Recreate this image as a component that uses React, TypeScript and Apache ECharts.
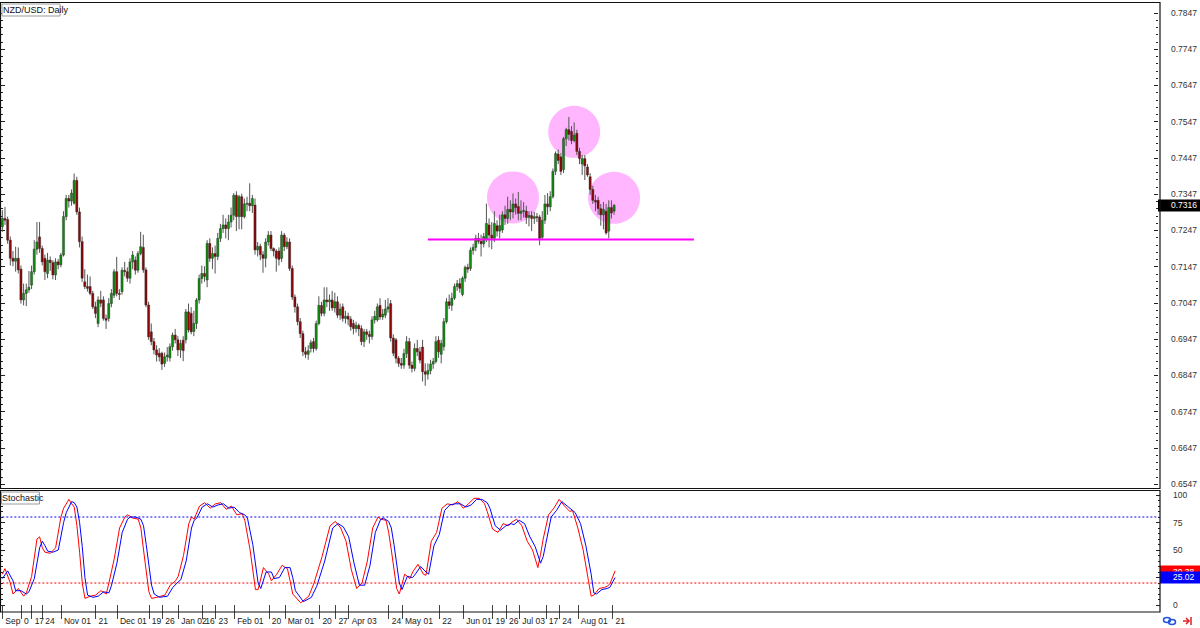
import React, { useEffect, useRef } from 'react';
import * as echarts from 'echarts';

// NZD/USD daily candles, in pips (price x 10000): [open, close, low, high]
const ohlc: number[][] = [
[7257,7280,7243,7303],[7280,7275,7262,7312],[7277,7220,7210,7285],[7220,7170,7150,7230],[7170,7162,7148,7190],
[7162,7170,7133,7202],[7170,7138,7128,7200],[7140,7055,7045,7150],[7055,7073,7040,7100],[7073,7083,7038,7100],
[7083,7090,7075,7135],[7096,7133,7085,7150],[7133,7195,7125,7220],[7195,7215,7180,7270],[7229,7197,7185,7270],
[7197,7160,7150,7205],[7170,7133,7110,7180],[7128,7165,7115,7185],[7165,7158,7135,7175],[7158,7124,7112,7165],
[7124,7160,7110,7170],[7160,7152,7140,7168],[7152,7179,7145,7185],[7179,7285,7175,7300],[7285,7335,7275,7345],
[7335,7328,7310,7345],[7328,7350,7315,7360],[7322,7385,7318,7404],[7385,7298,7290,7395],[7298,7216,7200,7310],
[7216,7115,7105,7230],[7105,7092,7085,7140],[7092,7087,7078,7125],[7092,7073,7068,7120],[7073,7036,7030,7080],
[7036,7018,7005,7050],[6990,7055,6980,7065],[7055,7046,7035,7080],[7055,7004,6998,7065],[7004,6999,6975,7015],
[7004,7045,6995,7060],[7045,7073,7035,7085],[7068,7133,7060,7140],[7133,7073,7065,7174],[7073,7070,7055,7085],
[7078,7137,7070,7145],[7137,7133,7120,7160],[7133,7115,7105,7145],[7115,7160,7100,7170],[7160,7179,7140,7190],
[7165,7137,7125,7175],[7137,7183,7130,7190],[7183,7202,7178,7243],[7200,7138,7130,7235],[7138,7041,7035,7145],
[7041,6953,6945,7050],[6967,6940,6930,6990],[6940,6917,6905,6950],[6917,6903,6885,6930],[6908,6898,6885,6922],
[6908,6878,6862,6912],[6880,6898,6870,6910],[6898,6903,6885,6925],[6895,6926,6885,6935],[6926,6958,6915,6965],
[6958,6945,6935,6975],[6945,6917,6900,6955],[6917,6935,6895,6945],[6944,6915,6886,6955],[6945,7022,6935,7030],
[7022,6972,6965,7045],[7018,6967,6960,7035],[6968,6990,6955,7025],[6990,7055,6975,7060],[7055,7114,7045,7125],
[7114,7128,7100,7150],[7128,7120,7105,7148],[7110,7211,7090,7220],[7211,7170,7160,7225],[7170,7183,7140,7200],
[7183,7175,7128,7205],[7175,7225,7165,7240],[7225,7252,7215,7265],[7252,7262,7240,7290],[7262,7252,7225,7280],
[7252,7270,7220,7290],[7270,7289,7255,7310],[7289,7344,7275,7350],[7344,7285,7245,7355],[7285,7340,7250,7345],
[7340,7285,7250,7348],[7285,7320,7280,7335],[7320,7322,7300,7340],[7322,7315,7300,7377],[7315,7335,7295,7345],
[7317,7193,7180,7335],[7193,7203,7175,7215],[7203,7180,7165,7210],[7180,7170,7130,7190],[7170,7215,7145,7225],
[7215,7234,7205,7245],[7234,7197,7190,7245],[7197,7190,7175,7200],[7190,7170,7133,7195],[7190,7167,7150,7200],
[7170,7234,7160,7245],[7234,7202,7190,7240],[7202,7215,7195,7228],[7215,7142,7135,7225],[7142,7063,7055,7150],
[7063,7036,7020,7070],[7036,6995,6985,7045],[6995,6962,6950,7005],[6962,6912,6900,6970],[6912,6905,6895,6925],
[6905,6915,6890,6930],[6921,6937,6910,6945],[6940,6921,6910,6950],[6921,6990,6915,6998],[6990,7040,6985,7065],
[7040,7018,7010,7050],[7018,7055,7010,7090],[7055,7050,7035,7090],[7050,7055,7025,7070],[7055,7033,7025,7080],
[7033,7050,7020,7075],[7050,7013,7005,7065],[7013,7030,7000,7045],[7036,7004,6995,7045],[7004,7010,6990,7025],
[7010,7002,6985,7020],[7002,6981,6970,7010],[6990,6976,6960,7000],[6976,6985,6965,6995],[6985,6975,6955,6990],
[6976,6940,6930,6985],[6940,6967,6925,6975],[6967,6960,6945,6975],[6960,6954,6935,6970],[6954,7000,6945,7010],
[7000,7010,6990,7025],[7000,7036,6995,7045],[7040,7008,7000,7060],[7008,7016,7000,7030],[7013,7030,7005,7055],
[7030,7036,7020,7060],[7045,6950,6940,7055],[6950,6908,6900,6960],[6945,6894,6880,6950],[6894,6880,6870,6900],
[6880,6875,6865,6895],[6875,6907,6865,6920],[6907,6940,6895,6955],[6940,6875,6865,6950],[6875,6866,6855,6885],
[6866,6921,6858,6935],[6921,6912,6900,6945],[6912,6889,6880,6925],[6925,6857,6830,6945],[6857,6850,6818,6880],
[6850,6860,6835,6880],[6860,6878,6850,6890],[6878,6885,6865,6895],[6885,6940,6880,6955],[6944,6912,6895,6955],
[6905,6935,6880,6945],[6926,6995,6915,7005],[6995,7050,6990,7060],[7050,7040,7030,7070],[7040,7060,7025,7075],
[7060,7092,7055,7100],[7092,7100,7080,7110],[7100,7087,7075,7115],[7070,7115,7065,7120],[7115,7145,7105,7150],
[7145,7140,7130,7155],[7142,7192,7135,7200],[7192,7200,7180,7210],[7200,7225,7190,7235],[7225,7217,7210,7240],
[7217,7210,7175,7235],[7210,7230,7200,7240],[7222,7266,7215,7321],[7262,7234,7200,7280],[7234,7225,7195,7270],
[7225,7266,7215,7300],[7260,7245,7230,7275],[7245,7260,7225,7290],[7248,7290,7240,7300],[7290,7280,7262,7315],
[7280,7305,7265,7340],[7305,7298,7275,7330],[7298,7320,7280,7349],[7320,7310,7290,7335],[7313,7294,7275,7353],
[7294,7300,7275,7330],[7300,7302,7282,7325],[7300,7283,7265,7315],[7283,7288,7258,7300],[7288,7280,7245,7300],
[7280,7285,7265,7298],[7285,7284,7270,7295],[7284,7225,7206,7290],[7228,7275,7220,7300],[7275,7320,7265,7345],
[7320,7312,7290,7350],[7312,7340,7300,7355],[7340,7410,7335,7418],[7410,7459,7400,7465],[7458,7440,7430,7470],
[7450,7410,7400,7460],[7415,7500,7405,7505],[7500,7525,7480,7530],[7525,7512,7495,7560],[7520,7495,7485,7535],
[7495,7510,7490,7545],[7515,7465,7455,7525],[7465,7445,7430,7475],[7430,7445,7400,7455],[7445,7425,7386,7455],
[7422,7400,7395,7430],[7395,7360,7345,7405],[7360,7330,7320,7370],[7330,7325,7300,7345],[7330,7307,7290,7340],
[7307,7290,7260,7320],[7290,7305,7250,7325],[7300,7240,7235,7320],[7245,7310,7225,7330],[7310,7295,7280,7330],
[7300,7316,7290,7320]
];

const TOTAL_SLOTS = 435;

const xLabels: [number, string][] = [
  [0, 'Sep'], [7, '0'], [11, '17'], [15, '24'], [22, 'Nov 01'], [35, '21'], [43, 'Dec 01'], [55, '19'],
  [60, '26'], [66, 'Jan 02'], [75, '16'], [80, '23'], [87, 'Feb 01'], [100, '20'], [106, 'Mar 01'],
  [119, '20'], [125, '27'], [130, 'Apr 03'], [145, '24'], [150, 'May 01'], [164, '22'], [173, 'Jun 01'],
  [184, '19'], [189, '26'], [194, 'Jul 03'], [204, '17'], [209, '24'], [216, 'Aug 01'], [229, '21'],
];

// Stochastic main line (red) and signal line (blue): [bar index, value]
const stochMain: number[][] = [
[0,28],[1,33],[3,20],[4,10],[6,15],[8,8],[9,11],[11,26],[13,60],[14,62],[15,52],[16,48],[18,47],[20,52],[22,80],
[23,88],[25,96],[26,92],[27,89],[28,72],[29,48],[30,20],[31,6],[33,8],[35,9],[37,13],[39,10],[40,20],[42,42],
[44,70],[46,80],[47,82],[49,79],[51,78],[52,70],[53,50],[55,12],[56,6],[58,7],[61,9],[63,18],[65,22],[66,26],
[68,45],[70,74],[71,80],[72,78],[74,90],[76,93],[78,88],[80,92],[82,93],[84,87],[86,90],[88,82],[90,83],[91,77],
[93,50],[95,14],[96,14],[98,34],[100,28],[101,22],[103,28],[105,36],[107,33],[108,22],[109,10],[112,2],[115,8],
[117,20],[120,44],[123,72],[125,76],[127,70],[129,58],[131,32],[133,15],[135,20],[137,40],[139,70],[141,80],
[142,78],[144,77],[145,66],[146,50],[148,15],[149,10],[151,28],[153,24],[154,30],[156,37],[158,28],[159,27],
[161,58],[163,66],[165,88],[167,92],[169,91],[171,94],[173,88],[175,92],[177,97],[179,97],[181,92],[182,85],
[184,69],[186,66],[188,74],[190,72],[191,75],[193,78],[195,72],[197,58],[199,50],[201,34],[202,46],[203,60],
[205,82],[207,88],[209,96],[211,90],[213,85],[214,86],[216,70],[218,50],[220,22],[221,8],[222,9],[224,15],
[226,16],[227,17],[228,19],[230,31]
];
const stochSignal: number[][] = [
[0,24],[2,31],[4,22],[5,13],[7,13],[9,10],[10,12],[12,24],[14,52],[15,58],[16,54],[17,49],[19,48],[21,50],
[23,75],[24,84],[26,94],[27,93],[28,89],[29,75],[30,53],[31,25],[32,9],[34,7],[36,8],[38,12],[40,11],[41,18],
[43,38],[45,66],[47,78],[48,80],[50,80],[52,78],[53,72],[54,55],[56,18],[57,10],[59,7],[62,8],[64,16],[66,21],
[67,23],[69,40],[71,70],[72,77],[73,79],[75,89],[77,92],[79,89],[81,91],[83,92],[85,88],[87,89],[89,84],[91,82],
[92,79],[94,55],[96,20],[97,15],[99,30],[101,30],[102,24],[104,25],[106,34],[108,34],[109,25],[110,13],[113,3],
[116,7],[118,17],[121,40],[124,70],[126,74],[128,71],[130,62],[132,38],[134,18],[136,18],[138,36],[140,66],
[142,78],[143,79],[145,76],[146,70],[147,55],[149,20],[150,14],[152,26],[154,25],[155,28],[157,35],[159,30],
[160,28],[162,54],[164,64],[166,86],[168,91],[170,92],[172,92],[174,89],[176,91],[178,96],[180,96],[182,93],
[183,88],[185,72],[187,68],[189,72],[191,74],[192,73],[194,77],[196,74],[198,62],[200,53],[202,38],[203,44],
[204,56],[206,80],[208,86],[210,94],[212,90],[214,86],[215,84],[217,74],[219,54],[221,28],[222,11],[223,10],
[225,14],[227,15],[228,16],[230,25]
];

const supportLevel = 7222;
const supportFrom = 160;
const supportTo = 260;
const patternCircles: number[][] = [[192, 7338], [215, 7519], [230, 7337]];
const lastPrice = 7316;
const stochMainLast = 30.38;
const stochSignalLast = 25.02;
const stochUpper = 80;
const stochLower = 20;

const FONT = 'Liberation Sans, Arial, sans-serif';
const CLEAR = 'rgba(0,0,0,0)';

export default function App() {
  const ref = useRef<HTMLDivElement>(null);
  useEffect(() => {
    if (!ref.current) return;
    const chart = echarts.init(ref.current, undefined, { renderer: 'svg' });
    const cats = Array.from({ length: TOTAL_SLOTS }, (_, i) => String(i));
    const labelMap = new Map<number, string>(xLabels);
    const showIdx = (idx: number) => labelMap.has(idx);
    const candleData = ohlc.map((r, i) => [i, r[0], r[1], r[2], r[3]]);
    const lastSlot = TOTAL_SLOTS - 1;

    const priceAxisBase = {
      type: 'value', gridIndex: 0, min: 6547, max: 7847, interval: 100,
      splitLine: { show: false }, axisLine: { show: false },
      axisTick: { show: true, inside: true, length: 4, lineStyle: { color: '#222' } },
      minorTick: { show: true, splitNumber: 5, length: 2, lineStyle: { color: '#222' } },
    };
    const stochAxisBase = {
      type: 'value', gridIndex: 1, min: 0, max: 100, interval: 25,
      splitLine: { show: false }, axisLine: { show: false },
      axisTick: { show: true, inside: true, length: 4, lineStyle: { color: '#222' } },
      minorTick: { show: true, splitNumber: 5, length: 2, lineStyle: { color: '#222' } },
    };
    const tagLabel = (text: string, bg: string) => ({
      show: true, position: 'end', distance: 0, formatter: text,
      backgroundColor: bg, color: '#fff', padding: [2, 6, 1, 13], fontSize: 8.5, fontFamily: FONT,
    });

    chart.setOption({
      animation: false,
      backgroundColor: '#fff',
      textStyle: { fontFamily: FONT },
      grid: [
        { left: 1, right: 40, top: 13, bottom: 144 },
        { left: 1, right: 40, top: 495, bottom: 23 },
      ],
      xAxis: [
        { type: 'category', gridIndex: 0, data: cats, boundaryGap: true, show: false },
        {
          type: 'category', gridIndex: 1, data: cats, boundaryGap: true, offset: 7,
          axisLine: { show: false },
          axisTick: { show: true, alignWithLabel: true, interval: showIdx, length: 14, lineStyle: { color: '#444' } },
          axisLabel: {
            interval: showIdx, formatter: (_v: string, idx: number) => labelMap.get(idx) ?? '',
            align: 'left', margin: 4, padding: [0, 0, 0, 3], fontSize: 8.5, color: '#222', fontFamily: FONT,
          },
        },
      ],
      yAxis: [
        { ...priceAxisBase, position: 'right',
          axisLabel: { show: true, margin: 13, fontSize: 8.5, color: '#333', fontFamily: FONT,
            formatter: (v: number) => (v / 10000).toFixed(4) } },
        { ...priceAxisBase, position: 'left', axisLabel: { show: false } },
        { ...stochAxisBase, position: 'right',
          axisLabel: { show: true, margin: 13, fontSize: 8.5, color: '#333', fontFamily: FONT,
            formatter: (v: number) => (v === 25 ? '' : String(v)) } },
        { ...stochAxisBase, position: 'left', axisLabel: { show: false } },
      ],
      series: [
        {
          type: 'scatter', xAxisIndex: 0, yAxisIndex: 0, data: patternCircles, symbol: 'circle',
          symbolSize: 52, itemStyle: { color: '#ffb6ff', opacity: 1 }, z: 1, silent: true,
        },
        {
          type: 'custom', xAxisIndex: 0, yAxisIndex: 0, data: candleData, z: 2,
          encode: { x: 0, y: [1, 2, 3, 4] },
          renderItem: (_p: any, api: any) => {
            const i = api.value(0);
            const o = api.value(1), c = api.value(2), l = api.value(3), h = api.value(4);
            const pO = api.coord([i, o]);
            const pC = api.coord([i, c]);
            const pL = api.coord([i, l]);
            const pH = api.coord([i, h]);
            const x = pO[0];
            const top = Math.min(pO[1], pC[1]);
            const bh = Math.max(Math.abs(pO[1] - pC[1]), 1);
            const up = c >= o;
            return {
              type: 'group',
              children: [
                { type: 'line', shape: { x1: x, y1: pH[1], x2: x, y2: pL[1] }, style: { stroke: '#555', lineWidth: 1 } },
                { type: 'rect', shape: { x: x - 1.1, y: top, width: 2.2, height: bh },
                  style: { fill: up ? '#0e8c0e' : '#8a0808', stroke: '#2b2b2b', lineWidth: 0.4 } },
              ],
            };
          },
        },
        {
          type: 'line', xAxisIndex: 0, yAxisIndex: 0,
          data: [[supportFrom, supportLevel], [supportTo, supportLevel]],
          symbol: 'none', lineStyle: { color: '#ff00ff', width: 2 }, z: 3, silent: true,
          markLine: {
            silent: true, symbol: 'none',
            lineStyle: { color: CLEAR, width: 1, type: 'solid' },
            data: [{ yAxis: lastPrice }],
            label: tagLabel((lastPrice / 10000).toFixed(4), '#000'),
          },
        },
        {
          type: 'line', xAxisIndex: 1, yAxisIndex: 2, symbol: 'none', z: 3, silent: true,
          data: [[0, stochUpper], [lastSlot, stochUpper]],
          lineStyle: { color: '#0000ff', width: 1, type: [2, 2] },
        },
        {
          type: 'line', xAxisIndex: 1, yAxisIndex: 2, symbol: 'none', z: 3, silent: true,
          data: [[0, stochLower], [lastSlot, stochLower]],
          lineStyle: { color: '#ff0000', width: 1, type: [2, 2] },
        },
        {
          type: 'line', xAxisIndex: 1, yAxisIndex: 2, data: stochMain, symbol: 'none', z: 4,
          lineStyle: { color: '#ff0000', width: 1 }, silent: true,
          markLine: {
            silent: true, symbol: 'none',
            lineStyle: { color: CLEAR, width: 1, type: 'solid' },
            data: [{ yAxis: stochMainLast }],
            label: tagLabel(stochMainLast.toFixed(2), '#ff0000'),
          },
        },
        {
          type: 'line', xAxisIndex: 1, yAxisIndex: 2, data: stochSignal, symbol: 'none', z: 5,
          lineStyle: { color: '#0000ff', width: 1 }, silent: true,
          markLine: {
            silent: true, symbol: 'none',
            lineStyle: { color: CLEAR, width: 1, type: 'solid' },
            data: [{ yAxis: stochSignalLast }],
            label: tagLabel(stochSignalLast.toFixed(2), '#0000ff'),
          },
        },
      ],
      graphic: [
        { type: 'rect', z: 100, silent: true, shape: { x: 0.5, y: 2.5, width: 1159.5, height: 486 },
          style: { fill: 'none', stroke: '#111', lineWidth: 1.2 } },
        { type: 'rect', z: 100, silent: true, shape: { x: 0.5, y: 490.5, width: 1159.5, height: 121.5 },
          style: { fill: 'none', stroke: '#111', lineWidth: 1.2 } },
        { type: 'rect', z: 101, silent: true, shape: { x: 2, y: 4, width: 58, height: 12 },
          style: { fill: '#fff', stroke: '#9a9a9a', lineWidth: 1 } },
        { type: 'text', z: 102, silent: true, x: 3, y: 5,
          style: { text: 'NZD/USD: Daily', fontSize: 9, fontFamily: FONT, fill: '#111' } },
        { type: 'rect', z: 101, silent: true, shape: { x: 1.5, y: 492, width: 38, height: 12 },
          style: { fill: '#fff', stroke: '#9a9a9a', lineWidth: 1 } },
        { type: 'text', z: 102, silent: true, x: 2, y: 493,
          style: { text: 'Stochastic', fontSize: 9, fontFamily: FONT, fill: '#111' } },
        { type: 'ellipse', z: 102, silent: true, shape: { cx: 1167, cy: 620, rx: 3.5, ry: 2.5 },
          style: { fill: 'none', stroke: '#2255dd', lineWidth: 1.5 } },
        { type: 'ellipse', z: 102, silent: true, shape: { cx: 1172, cy: 622, rx: 3.5, ry: 2.5 },
          style: { fill: 'none', stroke: '#2255dd', lineWidth: 1.5 } },
        { type: 'polyline', z: 102, silent: true, shape: { points: [[1183, 621], [1189, 621]] },
          style: { stroke: '#e02020', lineWidth: 1.5 } },
        { type: 'polyline', z: 102, silent: true, shape: { points: [[1186, 618], [1189, 621], [1186, 624]] },
          style: { stroke: '#e02020', lineWidth: 1.5, fill: 'none' } },
        { type: 'line', z: 102, silent: true, shape: { x1: 1191, y1: 617, x2: 1191, y2: 625 },
          style: { stroke: '#e02020', lineWidth: 1.5 } },
      ],
    });
    return () => chart.dispose();
  }, []);
  return (
    <div
      ref={ref}
      style={{ position: 'fixed', left: 0, top: 0, width: 1200, height: 628, background: '#fff' }}
    />
  );
}
